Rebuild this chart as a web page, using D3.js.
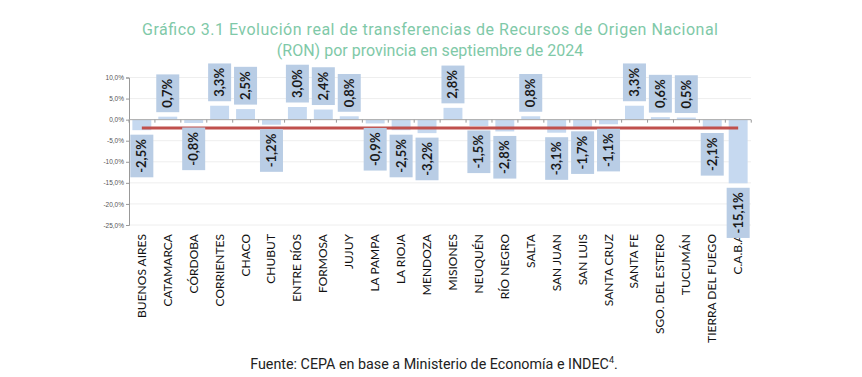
<!DOCTYPE html>
<html>
<head>
<meta charset="utf-8">
<script src="https://cdn.jsdelivr.net/npm/d3@7"></script>
<style>
  body { margin: 0; background: #fff; }
  svg { display: block; }
</style>
</head>
<body>
<div id="chart"></div>
<script>
const provinces = ["BUENOS AIRES", "CATAMARCA", "CÓRDOBA", "CORRIENTES", "CHACO", "CHUBUT",
  "ENTRE RÍOS", "FORMOSA", "JUJUY", "LA PAMPA", "LA RIOJA", "MENDOZA", "MISIONES", "NEUQUÉN",
  "RÍO NEGRO", "SALTA", "SAN JUAN", "SAN LUIS", "SANTA CRUZ", "SANTA FE", "SGO. DEL ESTERO",
  "TUCUMÁN", "TIERRA DEL FUEGO", "C.A.B.A"];
const variation = [-2.5, 0.7, -0.8, 3.3, 2.5, -1.2, 3.0, 2.4, 0.8, -0.9, -2.5, -3.2, 2.8, -1.5,
  -2.8, 0.8, -3.1, -1.7, -1.1, 3.3, 0.6, 0.5, -2.1, -15.1];
const average = -2.0;
const yTicks = [10, 5, 0, -5, -10, -15, -20, -25];

const width = 862, height = 377;
const svg = d3.select("#chart").append("svg")
    .attr("width", width)
    .attr("height", height);

const fmt = v => d3.format(".1f")(v).replace(".", ",").replace("−", "-");

// title
const title = svg.append("g")
    .attr("font-family", "Roboto")
    .attr("font-size", 16)
    .attr("fill", "#7fc9a8")
    .attr("text-anchor", "middle");
title.append("text").attr("x", 430).attr("y", 35)
    .attr("textLength", 576)
    .text("Gráfico 3.1 Evolución real de transferencias de Recursos de Origen Nacional");
title.append("text").attr("x", 430).attr("y", 56)
    .text("(RON) por provincia en septiembre de 2024");

const x = d3.scaleBand()
    .domain(provinces)
    .range([129, 751])
    .paddingInner(0.27)
    .paddingOuter(0.13);

const y = d3.scaleLinear()
    .domain([-25, 10])
    .range([225, 77.5]);

// gridlines
svg.append("g")
    .selectAll("line")
    .data(yTicks)
    .join("line")
    .attr("x1", 129).attr("x2", 751)
    .attr("y1", d => y(d)).attr("y2", d => y(d))
    .attr("stroke", "#eeeeee")
    .attr("stroke-width", 1);

// y axis
const yAxis = svg.append("g")
    .attr("transform", "translate(129,0)")
    .call(d3.axisLeft(y).tickValues(yTicks).tickSize(3).tickFormat(d => fmt(d) + "%"));
yAxis.select(".domain").attr("stroke", "#999");
yAxis.selectAll(".tick line").attr("stroke", "#999");
yAxis.selectAll(".tick text")
    .attr("font-family", "Liberation Sans")
    .attr("font-size", 6.5)
    .attr("fill", "#555")
    .attr("x", -5);

// bars
svg.append("g")
    .selectAll("rect")
    .data(variation)
    .join("rect")
    .attr("x", (d, i) => x(provinces[i]))
    .attr("width", x.bandwidth())
    .attr("y", d => y(Math.max(0, d)))
    .attr("height", d => Math.abs(y(d) - y(0)))
    .attr("fill", "#c6d9f0");

// zero axis with category ticks
const xAxis = svg.append("g")
    .attr("transform", `translate(0,${y(0)})`);
xAxis.append("line")
    .attr("x1", 129).attr("x2", 751)
    .attr("stroke", "#aaa");
xAxis.selectAll(".cat-tick")
    .data(d3.range(provinces.length + 1))
    .join("line")
    .attr("class", "cat-tick")
    .attr("x1", i => 129 + i * x.step())
    .attr("x2", i => 129 + i * x.step())
    .attr("y1", 0).attr("y2", 3)
    .attr("stroke", "#999");

// average line
svg.append("line")
    .attr("x1", x(provinces[0]) + x.bandwidth() / 2)
    .attr("x2", x(provinces[provinces.length - 1]) + x.bandwidth() / 2)
    .attr("y1", y(average)).attr("y2", y(average))
    .attr("stroke", "#c0504d")
    .attr("stroke-width", 3);

// category labels
svg.append("g")
    .selectAll("text")
    .data(provinces)
    .join("text")
    .attr("transform", d => `translate(${x(d) + x.bandwidth() / 2 + 4},234) rotate(-90)`)
    .attr("text-anchor", "end")
    .attr("font-family", "Lato")
    .attr("font-size", 12)
    .attr("fill", "#111")
    .text(d => d);

// data labels in boxes
const labels = svg.append("g")
    .selectAll("g")
    .data(variation)
    .join("g");
labels.each(function(d, i) {
    const g = d3.select(this);
    const cx = x(provinces[i]) + x.bandwidth() / 2;
    const t = g.append("text")
        .attr("font-family", "Lato")
        .attr("font-weight", 700)
        .attr("font-size", 13)
        .attr("fill", "#1a1a1a")
        .attr("text-anchor", "middle")
        .text(fmt(d) + "%");
    const len = t.node().getComputedTextLength();
    const h = len + 9;
    const gap = 4.5;
    const y0 = d >= 0 ? y(d) - gap - h : y(d) + gap;
    g.insert("rect", "text")
        .attr("x", cx - 11.5)
        .attr("y", y0)
        .attr("width", 23)
        .attr("height", h)
        .attr("fill", "#b9cde5");
    t.attr("transform", `translate(${cx + 4.5},${y0 + h / 2}) rotate(-90)`);
});

// source
svg.append("text")
    .attr("x", 434).attr("y", 369)
    .attr("text-anchor", "middle")
    .attr("font-family", "Roboto")
    .attr("font-size", 14.3)
    .attr("fill", "#222")
    .html("Fuente: CEPA en base a Ministerio de Economía e INDEC<tspan dy='-6' font-size='9'>4</tspan><tspan dy='6'>.</tspan>");
</script>
</body>
</html>
